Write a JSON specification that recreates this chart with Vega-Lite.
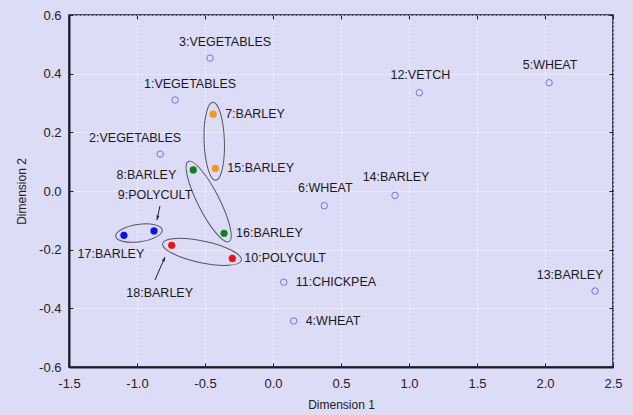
{
  "$schema": "https://vega.github.io/schema/vega-lite/v6.json",
  "width": 544,
  "height": 352,
  "autosize": {"type": "none"},
  "padding": {"left": 69, "top": 15, "right": 20, "bottom": 48},
  "background": "#dcdcf7",
  "config": {
    "font": "Liberation Sans",
    "view": {"stroke": "#1c1c2c", "strokeWidth": 1.5, "fill": "#dcdcf7"}
  },
  "datasets": {
    "pts": [
      {"id": 1, "label": "1:VEGETABLES", "x": -0.72, "y": 0.31, "pair": "none"},
      {"id": 2, "label": "2:VEGETABLES", "x": -0.83, "y": 0.126, "pair": "none"},
      {"id": 3, "label": "3:VEGETABLES", "x": -0.463, "y": 0.453, "pair": "none"},
      {"id": 4, "label": "4:WHEAT", "x": 0.152, "y": -0.443, "pair": "none"},
      {"id": 5, "label": "5:WHEAT", "x": 2.03, "y": 0.369, "pair": "none"},
      {"id": 6, "label": "6:WHEAT", "x": 0.377, "y": -0.05, "pair": "none"},
      {"id": 7, "label": "7:BARLEY", "x": -0.44, "y": 0.262, "pair": "7-15"},
      {"id": 8, "label": "8:BARLEY", "x": -0.586, "y": 0.072, "pair": "8-16"},
      {"id": 9, "label": "9:POLYCULT", "x": -0.875, "y": -0.136, "pair": "9-17"},
      {"id": 10, "label": "10:POLYCULT", "x": -0.299, "y": -0.23, "pair": "10-18"},
      {"id": 11, "label": "11:CHICKPEA", "x": 0.079, "y": -0.311, "pair": "none"},
      {"id": 12, "label": "12:VETCH", "x": 1.076, "y": 0.335, "pair": "none"},
      {"id": 13, "label": "13:BARLEY", "x": 2.368, "y": -0.341, "pair": "none"},
      {"id": 14, "label": "14:BARLEY", "x": 0.897, "y": -0.015, "pair": "none"},
      {"id": 15, "label": "15:BARLEY", "x": -0.424, "y": 0.077, "pair": "7-15"},
      {"id": 16, "label": "16:BARLEY", "x": -0.36, "y": -0.144, "pair": "8-16"},
      {"id": 17, "label": "17:BARLEY", "x": -1.096, "y": -0.151, "pair": "9-17"},
      {"id": 18, "label": "18:BARLEY", "x": -0.745, "y": -0.185, "pair": "10-18"}
    ],
    "arrows": [
      {"id": "a9", "x": -0.831, "y": -0.051, "x2": -0.853, "y2": -0.099},
      {"id": "a18", "x": -0.868, "y": -0.3035, "x2": -0.794, "y2": -0.225}
    ]
  },
  "layer": [
    {
      "data": {"name": "pts"},
      "transform": [{"filter": "datum.pair === 'none'"}],
      "mark": {"type": "point", "shape": "circle", "filled": false, "size": 42, "stroke": "#7474e4", "strokeWidth": 1, "opacity": 1},
      "encoding": {
        "x": {"field": "x", "type": "quantitative", "scale": {"domain": [-1.5, 2.5], "nice": false, "zero": false},
          "axis": {"orient": "bottom", "values": [-1.5, -1, -0.5, 0, 0.5, 1, 1.5, 2, 2.5], "labelExpr": "replace(format(datum.value, '.1f'), '\u2212', '-')", "title": "Dimension 1",
            "grid": true, "gridColor": "#ffffff", "gridDash": [2, 2], "gridOpacity": 0.75, "domainColor": "#1c1c2c", "domainWidth": 2,
            "tickColor": "#1c1c2c", "tickSize": -4, "labelPadding": 14, "labelFontSize": 13, "labelColor": "#222222", "labelFlush": false,
            "titleFontSize": 12, "titleFontWeight": "normal", "titleColor": "#222222", "titlePadding": 9}},
        "y": {"field": "y", "type": "quantitative", "scale": {"domain": [-0.6, 0.6], "nice": false, "zero": false},
          "axis": {"orient": "left", "values": [-0.6, -0.4, -0.2, 0, 0.2, 0.4, 0.6], "labelExpr": "replace(format(datum.value, '.1f'), '\u2212', '-')", "title": "Dimension 2",
            "grid": true, "gridColor": "#ffffff", "gridDash": [2, 2], "gridOpacity": 0.75, "domainColor": "#1c1c2c", "domainWidth": 2,
            "tickColor": "#1c1c2c", "tickSize": -4, "labelPadding": 12, "labelFontSize": 13, "labelColor": "#222222", "labelFlush": false,
            "titleFontSize": 12, "titleFontWeight": "normal", "titleColor": "#222222", "titlePadding": 10}}
      }
    },
    {
      "data": {"name": "pts"},
      "transform": [{"filter": "datum.pair !== 'none'"}],
      "mark": {"type": "point", "shape": "circle", "filled": true, "size": 52, "opacity": 1},
      "encoding": {
        "x": {"field": "x", "type": "quantitative", "scale": {"domain": [-1.5, 2.5], "nice": false, "zero": false},
          "axis": {"orient": "top", "values": [-1.5, -1, -0.5, 0, 0.5, 1, 1.5, 2, 2.5], "labels": false, "title": null, "grid": false, "domain": false, "tickColor": "#1c1c2c", "tickSize": -4}},
        "y": {"field": "y", "type": "quantitative", "scale": {"domain": [-0.6, 0.6], "nice": false, "zero": false},
          "axis": {"orient": "right", "values": [-0.6, -0.4, -0.2, 0, 0.2, 0.4, 0.6], "labels": false, "title": null, "grid": false, "domain": false, "tickColor": "#1c1c2c", "tickSize": -4}},
        "color": {"field": "pair", "type": "nominal", "legend": null,
          "scale": {"domain": ["7-15", "8-16", "9-17", "10-18"], "range": ["#f59a12", "#12801a", "#0a14e6", "#f51010"]}}
      }
    },
    {
      "data": {"name": "pts"},
      "transform": [{"filter": "datum.pair === '7-15'"}, {"aggregate": [{"op": "mean", "field": "x", "as": "x"}, {"op": "mean", "field": "y", "as": "y"}], "groupby": ["pair"]}],
      "mark": {"type": "point", "shape": "M-1,0 A1,0.26 0 1,1 1,0 A1,0.26 0 1,1 -1,0 Z", "size": 6100, "angle": 88, "filled": false, "stroke": "#555560", "strokeWidth": 1, "opacity": 1},
      "encoding": {
        "x": {"field": "x", "type": "quantitative", "scale": {"domain": [-1.5, 2.5], "nice": false, "zero": false}, "axis": null},
        "y": {"field": "y", "type": "quantitative", "scale": {"domain": [-0.6, 0.6], "nice": false, "zero": false}, "axis": null}
      }
    },
    {
      "data": {"name": "pts"},
      "transform": [{"filter": "datum.pair === '8-16'"}, {"aggregate": [{"op": "mean", "field": "x", "as": "x"}, {"op": "mean", "field": "y", "as": "y"}], "groupby": ["pair"]}],
      "mark": {"type": "point", "shape": "M-1,0 A1,0.24 0 1,1 1,0 A1,0.24 0 1,1 -1,0 Z", "size": 8100, "angle": 63, "filled": false, "stroke": "#555560", "strokeWidth": 1, "opacity": 1},
      "encoding": {
        "x": {"field": "x", "type": "quantitative", "scale": {"domain": [-1.5, 2.5], "nice": false, "zero": false}, "axis": null},
        "y": {"field": "y", "type": "quantitative", "scale": {"domain": [-0.6, 0.6], "nice": false, "zero": false}, "axis": null}
      }
    },
    {
      "data": {"name": "pts"},
      "transform": [{"filter": "datum.pair === '9-17'"}, {"aggregate": [{"op": "mean", "field": "x", "as": "x"}, {"op": "mean", "field": "y", "as": "y"}], "groupby": ["pair"]}],
      "mark": {"type": "point", "shape": "M-1,0 A1,0.37 0 1,1 1,0 A1,0.37 0 1,1 -1,0 Z", "size": 2209, "angle": -8, "filled": false, "stroke": "#555560", "strokeWidth": 1, "opacity": 1},
      "encoding": {
        "x": {"field": "x", "type": "quantitative", "scale": {"domain": [-1.5, 2.5], "nice": false, "zero": false}, "axis": null},
        "y": {"field": "y", "type": "quantitative", "scale": {"domain": [-0.6, 0.6], "nice": false, "zero": false}, "axis": null}
      }
    },
    {
      "data": {"name": "pts"},
      "transform": [{"filter": "datum.pair === '10-18'"}, {"aggregate": [{"op": "mean", "field": "x", "as": "x"}, {"op": "mean", "field": "y", "as": "y"}], "groupby": ["pair"]}],
      "mark": {"type": "point", "shape": "M-1,0 A1,0.27 0 1,1 1,0 A1,0.27 0 1,1 -1,0 Z", "size": 6480, "angle": 12, "filled": false, "stroke": "#555560", "strokeWidth": 1, "opacity": 1},
      "encoding": {
        "x": {"field": "x", "type": "quantitative", "scale": {"domain": [-1.5, 2.5], "nice": false, "zero": false}, "axis": null},
        "y": {"field": "y", "type": "quantitative", "scale": {"domain": [-0.6, 0.6], "nice": false, "zero": false}, "axis": null}
      }
    },
    {
      "data": {"name": "arrows"},
      "mark": {"type": "rule", "color": "#222222", "strokeWidth": 1},
      "encoding": {
        "x": {"field": "x", "type": "quantitative", "scale": {"domain": [-1.5, 2.5], "nice": false, "zero": false}, "axis": null},
        "y": {"field": "y", "type": "quantitative", "scale": {"domain": [-0.6, 0.6], "nice": false, "zero": false}, "axis": null},
        "x2": {"field": "x2"},
        "y2": {"field": "y2"}
      }
    },
    {
      "data": {"name": "arrows"},
      "transform": [{"filter": "datum.id === 'a9'"}],
      "mark": {"type": "point", "shape": "M0,0 L-0.6,1.8 L0.6,1.8 Z", "size": 25, "angle": 192, "filled": true, "color": "#222222", "opacity": 1},
      "encoding": {
        "x": {"field": "x2", "type": "quantitative", "scale": {"domain": [-1.5, 2.5], "nice": false, "zero": false}, "axis": null},
        "y": {"field": "y2", "type": "quantitative", "scale": {"domain": [-0.6, 0.6], "nice": false, "zero": false}, "axis": null}
      }
    },
    {
      "data": {"name": "arrows"},
      "transform": [{"filter": "datum.id === 'a18'"}],
      "mark": {"type": "point", "shape": "M0,0 L-0.6,1.8 L0.6,1.8 Z", "size": 25, "angle": 23, "filled": true, "color": "#222222", "opacity": 1},
      "encoding": {
        "x": {"field": "x2", "type": "quantitative", "scale": {"domain": [-1.5, 2.5], "nice": false, "zero": false}, "axis": null},
        "y": {"field": "y2", "type": "quantitative", "scale": {"domain": [-0.6, 0.6], "nice": false, "zero": false}, "axis": null}
      }
    },
    {
      "data": {"name": "pts"},
      "transform": [{"filter": "indexof([5, 6, 12, 14], datum.id) >= 0"}],
      "mark": {"type": "text", "fontSize": 12.5, "color": "#1a1a1a", "align": "center", "baseline": "middle", "dx": 1, "dy": -18},
      "encoding": {
        "x": {"field": "x", "type": "quantitative", "scale": {"domain": [-1.5, 2.5], "nice": false, "zero": false}, "axis": null},
        "y": {"field": "y", "type": "quantitative", "scale": {"domain": [-0.6, 0.6], "nice": false, "zero": false}, "axis": null},
        "text": {"field": "label"}
      }
    },
    {
      "data": {"name": "pts"},
      "transform": [{"filter": "indexof([1, 3], datum.id) >= 0"}],
      "mark": {"type": "text", "fontSize": 12.5, "color": "#1a1a1a", "align": "center", "baseline": "middle", "dx": 15, "dy": -16},
      "encoding": {
        "x": {"field": "x", "type": "quantitative", "scale": {"domain": [-1.5, 2.5], "nice": false, "zero": false}, "axis": null},
        "y": {"field": "y", "type": "quantitative", "scale": {"domain": [-0.6, 0.6], "nice": false, "zero": false}, "axis": null},
        "text": {"field": "label"}
      }
    },
    {
      "data": {"name": "pts"},
      "transform": [{"filter": "indexof([2, 13], datum.id) >= 0"}],
      "mark": {"type": "text", "fontSize": 12.5, "color": "#1a1a1a", "align": "center", "baseline": "middle", "dx": -25, "dy": -16},
      "encoding": {
        "x": {"field": "x", "type": "quantitative", "scale": {"domain": [-1.5, 2.5], "nice": false, "zero": false}, "axis": null},
        "y": {"field": "y", "type": "quantitative", "scale": {"domain": [-0.6, 0.6], "nice": false, "zero": false}, "axis": null},
        "text": {"field": "label"}
      }
    },
    {
      "data": {"name": "pts"},
      "transform": [{"filter": "indexof([4, 7, 10, 11, 15, 16], datum.id) >= 0"}],
      "mark": {"type": "text", "fontSize": 12.5, "color": "#1a1a1a", "align": "left", "baseline": "middle", "dx": 12, "dy": 0},
      "encoding": {
        "x": {"field": "x", "type": "quantitative", "scale": {"domain": [-1.5, 2.5], "nice": false, "zero": false}, "axis": null},
        "y": {"field": "y", "type": "quantitative", "scale": {"domain": [-0.6, 0.6], "nice": false, "zero": false}, "axis": null},
        "text": {"field": "label"}
      }
    },
    {
      "data": {"name": "pts"},
      "transform": [{"filter": "datum.id === 8"}],
      "mark": {"type": "text", "fontSize": 12.5, "color": "#1a1a1a", "align": "right", "baseline": "middle", "dx": -17, "dy": 5},
      "encoding": {
        "x": {"field": "x", "type": "quantitative", "scale": {"domain": [-1.5, 2.5], "nice": false, "zero": false}, "axis": null},
        "y": {"field": "y", "type": "quantitative", "scale": {"domain": [-0.6, 0.6], "nice": false, "zero": false}, "axis": null},
        "text": {"field": "label"}
      }
    },
    {
      "data": {"name": "pts"},
      "transform": [{"filter": "datum.id === 17"}],
      "mark": {"type": "text", "fontSize": 12.5, "color": "#1a1a1a", "align": "center", "baseline": "middle", "dx": -13, "dy": 19},
      "encoding": {
        "x": {"field": "x", "type": "quantitative", "scale": {"domain": [-1.5, 2.5], "nice": false, "zero": false}, "axis": null},
        "y": {"field": "y", "type": "quantitative", "scale": {"domain": [-0.6, 0.6], "nice": false, "zero": false}, "axis": null},
        "text": {"field": "label"}
      }
    },
    {
      "data": {"name": "pts"},
      "transform": [{"filter": "datum.id === 9"}],
      "mark": {"type": "text", "fontSize": 12.5, "color": "#1a1a1a", "align": "center", "baseline": "middle", "dx": 1, "dy": -36},
      "encoding": {
        "x": {"field": "x", "type": "quantitative", "scale": {"domain": [-1.5, 2.5], "nice": false, "zero": false}, "axis": null},
        "y": {"field": "y", "type": "quantitative", "scale": {"domain": [-0.6, 0.6], "nice": false, "zero": false}, "axis": null},
        "text": {"field": "label"}
      }
    },
    {
      "data": {"name": "pts"},
      "transform": [{"filter": "datum.id === 18"}],
      "mark": {"type": "text", "fontSize": 12.5, "color": "#1a1a1a", "align": "center", "baseline": "middle", "dx": -12, "dy": 48},
      "encoding": {
        "x": {"field": "x", "type": "quantitative", "scale": {"domain": [-1.5, 2.5], "nice": false, "zero": false}, "axis": null},
        "y": {"field": "y", "type": "quantitative", "scale": {"domain": [-0.6, 0.6], "nice": false, "zero": false}, "axis": null},
        "text": {"field": "label"}
      }
    }
  ],
  "resolve": {"axis": {"x": "independent", "y": "independent"}}
}
